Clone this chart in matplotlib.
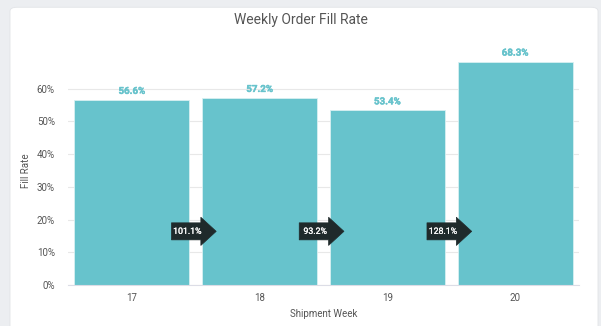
import matplotlib.pyplot as plt
import matplotlib.patheffects as pe
from matplotlib.patches import FancyBboxPatch, Polygon
from matplotlib.ticker import FuncFormatter

plt.rcParams["font.family"] = ["Roboto", "DejaVu Sans"]

weeks = ["17", "18", "19", "20"]
fill_rate = [56.6, 57.2, 53.4, 68.3]
week_change = ["101.1%", "93.2%", "128.1%"]

bar_color = "#67c3cc"
text_color = "#555555"

fig = plt.figure(figsize=(6.01, 3.26), dpi=100)
fig.patch.set_facecolor("#eceef1")

# white card behind the chart
card = FancyBboxPatch((10 / 601, -0.05), (598 - 10) / 601, (326 - 4) / 326 + 0.04,
                      boxstyle="round,pad=0,rounding_size=0.012",
                      transform=fig.transFigure, facecolor="white",
                      edgecolor="#e2e4e7", linewidth=0.6, zorder=-5)
fig.patches.append(card)

ax = fig.add_axes([68 / 601, 1 - 285 / 326, (579 - 68) / 601, (285 - 56) / 326])
ax.set_facecolor("none")
ax.set_zorder(2)

x = range(len(weeks))
bars = ax.bar(x, fill_rate, width=0.9, color=bar_color, edgecolor="#d8f0f2",
              linewidth=0.6, zorder=2)
ax.set_xlim(-0.5, len(weeks) - 0.5)
ax.set_ylim(0, 70)
ax.set_yticks(range(0, 70, 10))
ax.yaxis.set_major_formatter(FuncFormatter(lambda v, _: f"{v:.0f}%"))
ax.set_xticks(list(x))
ax.set_xticklabels(weeks)
ax.grid(axis="y", color="#e8e8e8", linewidth=0.8, zorder=0)
ax.set_axisbelow(True)
for s in ["top", "right", "left"]:
    ax.spines[s].set_visible(False)
ax.spines["bottom"].set_color("#dcdde6")
ax.tick_params(axis="both", length=0, labelsize=7, colors=text_color, pad=6)
ax.tick_params(axis="y", pad=9.5)

ax.set_xlabel("Shipment Week", fontsize=7, color=text_color, labelpad=4)
ax.set_ylabel("Fill Rate", fontsize=7, color=text_color)
ax.yaxis.set_label_coords(-0.072, 0.5)

bold_teal = [pe.withStroke(linewidth=0.3, foreground=bar_color)]
for xi, v in zip(x, fill_rate):
    ax.text(xi, v + 1.2, f"{v:.1f}%", ha="center", va="bottom", fontsize=7,
            fontweight="bold", color=bar_color, path_effects=bold_teal)

# week-over-week change markers between bars
ypos = 16.4
bold_white = [pe.withStroke(linewidth=0.15, foreground="white")]
for i, lbl in enumerate(week_change):
    gx = i + 0.5
    left, right = gx - 0.19, gx + 0.04
    tip = gx + 0.16
    bh, hh = 2.6, 4.3
    pts = [(left, ypos - bh), (right, ypos - bh), (right, ypos - hh),
           (tip, ypos), (right, ypos + hh), (right, ypos + bh),
           (left, ypos + bh)]
    ax.add_patch(Polygon(pts, closed=True, facecolor="#1f2a2b",
                         edgecolor="#1f2a2b", linewidth=0.5, joinstyle="round",
                         zorder=4))
    ax.text((left + right) / 2 + 0.01, ypos, lbl, ha="center", va="center",
            fontsize=6.3, color="white", path_effects=bold_white, zorder=5)

fig.text(0.5, 1 - 20 / 326, "Weekly Order Fill Rate", ha="center", va="center",
         fontsize=10, color=text_color)

fig.savefig("out.png", dpi=100, facecolor=fig.get_facecolor())
